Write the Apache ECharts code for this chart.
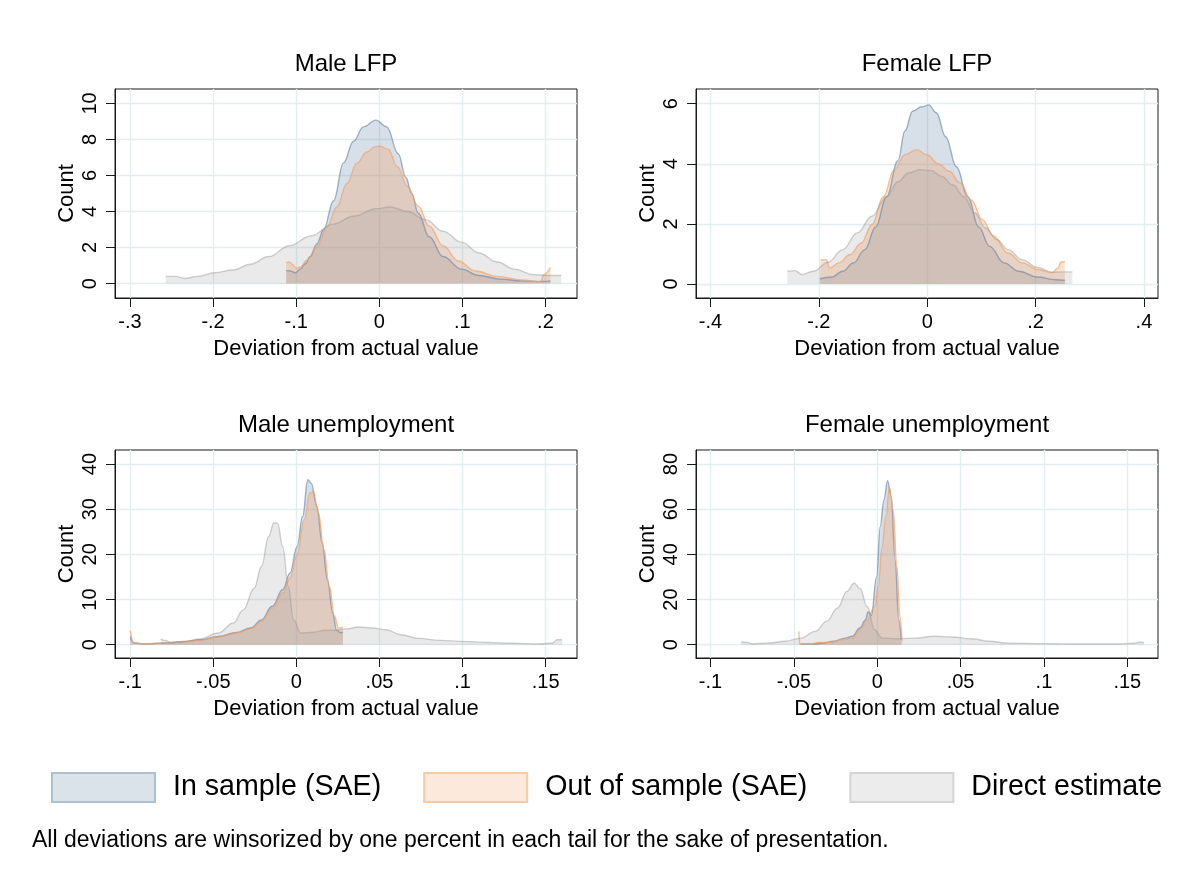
<!DOCTYPE html>
<html>
<head>
<meta charset="utf-8">
<script src="https://cdn.jsdelivr.net/npm/echarts@6/dist/echarts.min.js"></script>
<style>
  html, body { margin: 0; padding: 0; background: #fff; }
  #main { width: 1198px; height: 874px; }
</style>
</head>
<body>
<div id="main"></div>
<script>
// names
var seriesNames = ['In sample (SAE)', 'Out of sample (SAE)', 'Direct estimate']
var panelTitles = ['Male LFP', 'Female LFP', 'Male unemployment', 'Female unemployment']
var xTitle = 'Deviation from actual value'
var yTitle = 'Count'
var footnote = 'All deviations are winsorized by one percent in each tail for the sake of presentation.'

// tick labels
var lfpMaleXTicks = [-0.3, -0.2, -0.1, 0, 0.1, 0.2]
var lfpMaleYTicks = [0, 2, 4, 6, 8, 10]
var lfpFemaleXTicks = [-0.4, -0.2, 0, 0.2, 0.4]
var lfpFemaleYTicks = [0, 2, 4, 6]
var unempXTicks = [-0.1, -0.05, 0, 0.05, 0.1, 0.15]
var unempMaleYTicks = [0, 10, 20, 30, 40]
var unempFemaleYTicks = [0, 20, 40, 60, 80]

// Male LFP
var mlfpInX = [-0.112, -0.107, -0.101, -0.095, -0.089, -0.083, -0.075, -0.067, -0.055, -0.043, -0.031, -0.019, -0.004, 0.009, 0.023, 0.032, 0.039, 0.047, 0.06, 0.077, 0.099, 0.12, 0.145, 0.172, 0.195, 0.206]
var mlfpInY = [0.72, 0.7, 0.6, 0.8, 1.1, 1.5, 2.2, 3.0, 4.6, 6.7, 7.9, 8.7, 9.07, 8.7, 7.2, 5.9, 5.0, 3.9, 2.6, 1.5, 0.8, 0.45, 0.25, 0.15, 0.12, 0.15]
var mlfpOutX = [-0.112, -0.108, -0.104, -0.1, -0.095, -0.087, -0.075, -0.063, -0.051, -0.039, -0.027, -0.015, -0.005, 0.001, 0.011, 0.0215, 0.034, 0.047, 0.06, 0.077, 0.095, 0.116, 0.142, 0.172, 0.194, 0.198, 0.206]
var mlfpOutY = [1.15, 1.2, 1.05, 0.85, 0.92, 1.3, 2.03, 3.14, 4.26, 5.55, 6.67, 7.3, 7.6, 7.63, 7.45, 6.5, 5.4, 4.3, 3.2, 2.1, 1.25, 0.7, 0.4, 0.2, 0.1, 0.5, 0.9]
var mlfpDirX = [-0.257, -0.245, -0.234, -0.219, -0.198, -0.176, -0.155, -0.133, -0.108, -0.082, -0.056, -0.03, -0.004, 0.013, 0.034, 0.056, 0.077, 0.099, 0.12, 0.142, 0.163, 0.185, 0.202, 0.219]
var mlfpDirY = [0.4, 0.4, 0.28, 0.4, 0.6, 0.75, 1.07, 1.5, 2.1, 2.65, 3.3, 3.75, 4.15, 4.25, 4.0, 3.55, 2.9, 2.3, 1.7, 1.2, 0.8, 0.5, 0.45, 0.45]

// Female LFP
var flfpInX = [-0.198, -0.176, -0.156, -0.136, -0.115, -0.095, -0.075, -0.054, -0.041, -0.027, -0.01, 0.003, 0.017, 0.034, 0.054, 0.075, 0.095, 0.115, 0.142, 0.169, 0.203, 0.237, 0.254]
var flfpInY = [0.17, 0.23, 0.42, 0.7, 1.14, 1.9, 2.9, 4.1, 5.1, 5.75, 5.9, 5.96, 5.7, 4.9, 3.9, 2.9, 1.9, 1.25, 0.7, 0.42, 0.23, 0.14, 0.12]
var flfpOutX = [-0.197, -0.186, -0.18, -0.163, -0.142, -0.122, -0.102, -0.081, -0.061, -0.041, -0.02, 0, 0.02, 0.041, 0.061, 0.081, 0.102, 0.122, 0.149, 0.176, 0.203, 0.231, 0.241, 0.247, 0.254]
var flfpOutY = [0.8, 0.8, 0.53, 0.7, 0.98, 1.36, 1.97, 2.9, 3.8, 4.3, 4.47, 4.3, 4.0, 3.75, 3.36, 2.8, 2.14, 1.6, 1.03, 0.7, 0.48, 0.37, 0.53, 0.73, 0.75]
var flfpDirX = [-0.258, -0.244, -0.231, -0.21, -0.183, -0.156, -0.129, -0.102, -0.075, -0.054, -0.034, -0.014, 0.007, 0.027, 0.047, 0.068, 0.088, 0.108, 0.129, 0.149, 0.176, 0.203, 0.231, 0.251, 0.268]
var flfpDirY = [0.42, 0.44, 0.31, 0.42, 0.72, 1.14, 1.7, 2.25, 2.9, 3.4, 3.7, 3.8, 3.78, 3.58, 3.3, 2.9, 2.36, 1.86, 1.47, 1.14, 0.8, 0.55, 0.39, 0.4, 0.4]

// Male unemployment
var munInX = [-0.1, -0.098, -0.092, -0.079, -0.068, -0.058, -0.047, -0.036, -0.0275, -0.021, -0.0146, -0.0082, -0.0039, 0.0004, 0.0037, 0.0069, 0.009, 0.0123, 0.0155, 0.0187, 0.0219, 0.024, 0.0262, 0.028]
var munInY = [1.8, 0.4, 0.15, 0.4, 0.7, 1.1, 1.8, 2.7, 3.7, 5.5, 8.5, 12.2, 15.8, 21.7, 28.4, 36.5, 35.7, 30.6, 22.5, 14.4, 7.0, 3.3, 2.7, 2.7]
var munOutX = [-0.1, -0.098, -0.092, -0.079, -0.068, -0.058, -0.047, -0.036, -0.0275, -0.021, -0.0146, -0.0082, -0.0039, 0.0004, 0.0047, 0.008, 0.0101, 0.0133, 0.0166, 0.0198, 0.023, 0.0252, 0.028]
var munOutY = [3.1, 0.5, 0.15, 0.4, 0.66, 0.95, 1.7, 2.6, 3.5, 5.2, 8.1, 11.4, 14.7, 19.9, 27.6, 33.5, 33.9, 29.1, 21.0, 12.9, 6.3, 3.7, 3.8]
var munDirX = [-0.0817, -0.079, -0.075, -0.068, -0.058, -0.047, -0.038, -0.032, -0.0254, -0.021, -0.0168, -0.0135, -0.0114, -0.0082, -0.0049, -0.0017, 0.0026, 0.009, 0.0176, 0.024, 0.0305, 0.037, 0.0456, 0.054, 0.063, 0.0735, 0.0865, 0.0994, 0.1145, 0.129, 0.1467, 0.154, 0.157, 0.16]
var munDirY = [1.25, 0.95, 0.4, 0.66, 1.25, 2.6, 4.8, 7.7, 12.5, 17.3, 23.9, 27.0, 26.9, 21.7, 12.9, 5.5, 2.6, 2.7, 3.2, 3.2, 3.5, 3.9, 3.7, 3.3, 2.2, 1.4, 0.95, 0.74, 0.52, 0.3, 0.15, 0.37, 1.1, 1.1]

// Female unemployment
var funInX = [-0.046, -0.037, -0.0327, -0.026, -0.0193, -0.0149, -0.0104, -0.0071, -0.0055, -0.0035, -0.0004, 0.0018, 0.004, 0.0062, 0.0084, 0.0107, 0.0129, 0.0144]
var funInY = [0.3, 0.3, 0.7, 1.5, 2.9, 3.7, 7.4, 11.0, 14.5, 13.0, 30.0, 52.3, 64.0, 72.6, 65.5, 37.6, 11.0, 2.2]
var funOutX = [-0.047, -0.0464, -0.041, -0.035, -0.028, -0.0216, -0.0149, -0.0104, -0.006, -0.0016, 0.0007, 0.0029, 0.0051, 0.0073, 0.0096, 0.0118, 0.0136, 0.0149]
var funOutY = [5.9, 0.3, 0.15, 1.0, 1.0, 2.2, 2.9, 6.6, 11.0, 17.0, 25.8, 43.4, 56.7, 69.7, 59.6, 34.6, 12.5, 1.5]
var funDirX = [-0.0816, -0.078, -0.075, -0.066, -0.0549, -0.046, -0.0371, -0.0304, -0.0238, -0.0182, -0.0138, -0.0104, -0.006, -0.0016, 0.0029, 0.0118, 0.0229, 0.034, 0.0451, 0.0562, 0.0673, 0.0784, 0.1007, 0.123, 0.1451, 0.154, 0.1573, 0.16]
var funDirY = [1.2, 1.0, 0.3, 0.7, 1.5, 2.9, 5.9, 10.3, 16.2, 23.6, 27.2, 25.0, 16.9, 6.6, 2.9, 2.65, 2.9, 3.7, 3.4, 2.65, 1.5, 0.7, 0.45, 0.3, 0.3, 0.6, 1.2, 1.0]

var FONT = '"Liberation Sans", Arial, Helvetica, sans-serif'
var fills = ['rgba(100,130,165,0.26)', 'rgba(245,160,100,0.3)', 'rgba(150,150,150,0.2)']
var lines = ['rgba(100,130,165,0.6)', 'rgba(245,160,100,0.65)', 'rgba(150,150,150,0.45)']
var swatchFill = ['#dae2ea', '#fde9db', '#ececec']
var swatchBorder = ['#aebfce', '#fbc9a2', '#d5d5d5']

function zip(xs, ys) {
  return xs.map(function (x, i) { return [x, ys[i]] })
}
// Stata style labels: -.3, .05, 0
function fmtX(v) {
  var s = String(+(+v).toFixed(3))
  return s.replace(/^(-?)0\./, '$1.')
}

var panels = [
  { title: panelTitles[0], left: 115, top: 89, height: 209, xr: [-0.318, 0.238], yr: [-0.8, 10.8],
    xt: lfpMaleXTicks, yt: lfpMaleYTicks, d: [zip(mlfpInX, mlfpInY), zip(mlfpOutX, mlfpOutY), zip(mlfpDirX, mlfpDirY)] },
  { title: panelTitles[1], left: 696, top: 89, height: 209, xr: [-0.4267, 0.426], yr: [-0.47, 6.49],
    xt: lfpFemaleXTicks, yt: lfpFemaleYTicks, d: [zip(flfpInX, flfpInY), zip(flfpOutX, flfpOutY), zip(flfpDirX, flfpDirY)] },
  { title: panelTitles[2], left: 115, top: 450, height: 208, xr: [-0.1092, 0.1689], yr: [-2.95, 43.1],
    xt: unempXTicks, yt: unempMaleYTicks, d: [zip(munInX, munInY), zip(munOutX, munOutY), zip(munDirX, munDirY)] },
  { title: panelTitles[3], left: 696, top: 450, height: 208, xr: [-0.1087, 0.1684], yr: [-5.9, 86.2],
    xt: unempXTicks, yt: unempFemaleYTicks, d: [zip(funInX, funInY), zip(funOutX, funOutY), zip(funDirX, funDirY)] }
]

var grids = [], xAxes = [], yAxes = [], series = [], graphics = []
panels.forEach(function (p, i) {
  grids.push({ left: p.left, top: p.top, width: 462, height: p.height, show: true,
    borderColor: '#1a1a1a', borderWidth: 1, backgroundColor: 'transparent' })
  xAxes.push({
    type: 'value', gridIndex: i, min: p.xr[0], max: p.xr[1],
    name: xTitle, nameLocation: 'middle', nameGap: 40,
    nameTextStyle: { fontFamily: FONT, fontSize: 22, color: '#000' },
    axisLine: { show: true, onZero: false, lineStyle: { color: '#1a1a1a', width: 1 } },
    axisTick: { show: true, length: 9, customValues: p.xt, lineStyle: { color: '#1a1a1a' } },
    axisLabel: { customValues: p.xt, margin: 14, fontFamily: FONT, fontSize: 20, color: '#000', formatter: fmtX },
    splitLine: { show: true, lineStyle: { color: '#e2eef0', width: 1.4 } }
  })
  yAxes.push({
    type: 'value', gridIndex: i, min: p.yr[0], max: p.yr[1],
    name: yTitle, nameLocation: 'middle', nameGap: 37, nameRotate: 90,
    nameTextStyle: { fontFamily: FONT, fontSize: 22, color: '#000' },
    axisLine: { show: true, onZero: false, lineStyle: { color: '#1a1a1a', width: 1 } },
    axisTick: { show: true, length: 9, customValues: p.yt, lineStyle: { color: '#1a1a1a' } },
    axisLabel: { customValues: p.yt, rotate: 90, margin: 15, fontFamily: FONT, fontSize: 20, color: '#000' },
    splitLine: { show: true, lineStyle: { color: '#e2eef0', width: 1.4 } }
  })
  p.d.forEach(function (pts, k) {
    series.push({
      name: seriesNames[k], type: 'line', xAxisIndex: i, yAxisIndex: i,
      data: pts, symbol: 'none', smooth: 0.4, smoothMonotone: 'x',
      lineStyle: { color: lines[k], width: 1.4 },
      itemStyle: { color: swatchFill[k] },
      areaStyle: { color: fills[k], opacity: 1 },
      silent: true, animation: false
    })
  })
  graphics.push({ type: 'text', x: p.left + 231, y: p.top - 25,
    style: { text: p.title, fontFamily: FONT, fontSize: 24, fill: '#000', align: 'center', verticalAlign: 'middle',
      textAlign: 'center', textVerticalAlign: 'middle' } })
})

graphics.push({ type: 'text', x: 32, y: 841,
  style: { text: footnote, fontFamily: FONT, fontSize: 23, fill: '#000', align: 'left', verticalAlign: 'middle',
    textAlign: 'left', textVerticalAlign: 'middle' } })

var chart = echarts.init(document.getElementById('main'))
chart.setOption({
  backgroundColor: '#fff',
  animation: false,
  grid: grids,
  xAxis: xAxes,
  yAxis: yAxes,
  series: series,
  graphic: graphics,
  legend: {
    left: 51, top: 772, padding: 0, orient: 'horizontal',
    itemWidth: 103, itemHeight: 29, itemGap: 42, selectedMode: false,
    textStyle: { fontFamily: FONT, fontSize: 28.6, color: '#000', padding: [0, 0, 0, 13] },
    data: seriesNames.map(function (n, k) {
      return { name: n, icon: 'rect', itemStyle: { color: swatchFill[k], borderColor: swatchBorder[k], borderWidth: 2 } }
    })
  }
})
</script>
</body>
</html>
